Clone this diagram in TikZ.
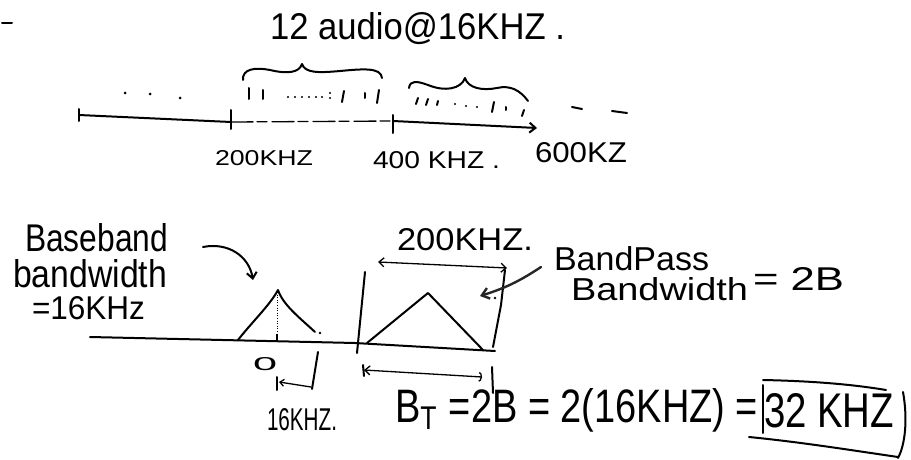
\documentclass[tikz,border=0pt]{standalone}
\usepackage{graphicx}
\usepackage{fontspec}
\setmainfont{Liberation Sans}
\usetikzlibrary{arrows.meta}
\newcommand{\hwtext}[3]{\resizebox{#1pt}{#2pt}{#3}}
\begin{document}
\begin{tikzpicture}[x=1pt,y=-1pt,
  ink/.style={line width=2pt, line cap=round, line join=round},
  fine/.style={line width=1.3pt, line cap=round},
  lbl/.style={inner sep=0pt, outer sep=0pt, anchor=base west},
  barb/.style={-{Straight Barb[length=6pt,width=10pt]}},
  dblbarb/.style={{Straight Barb[length=5pt,width=9pt]}-{Straight Barb[length=5pt,width=9pt]}},
]
\useasboundingbox (0,0) rectangle (911,460);
\fill[white] (0,0) rectangle (911,460);

% ---------- top part ----------
\draw[ink] (2,23) -- (12,23);
\node[lbl] (title) at (270,40) {\hwtext{295}{27}{12 audio@16KHZ .}};

% braces
\draw[ink] (243,80) .. controls (242,69) and (255,67) .. (270,70)
  .. controls (287,74) and (299,73) .. (302,64)
  .. controls (305,73) and (318,73) .. (340,71)
  .. controls (362,69) and (381,67) .. (382,78);
\draw[ink] (409,88) .. controls (410,80) and (417,81) .. (428,85)
  .. controls (445,92) and (461,89) .. (465,78)
  .. controls (468,88) and (482,91) .. (497,88)
  .. controls (510,85) and (520,90) .. (528,101);

% channel ticks, group 1
\draw[ink] (249,88) -- (249,99);
\draw[ink] (263,90) -- (263,99);
\foreach \x in {288,295,302,309,316,322} \fill (\x,97) circle (1.1pt);
\fill (330,93) circle (1.1pt); \fill (330,98) circle (1.1pt);
\draw[ink] (344,91) -- (342,102);
\draw[ink] (365,93) -- (365,98);
\draw[ink] (379,90) -- (377,103);
% channel ticks, group 2
\draw[ink] (418,98) -- (416,104);
\draw[ink] (428,99) -- (426,105);
\draw[ink] (438,101) -- (437,105);
\foreach \x/\y in {455/104,466/106,477/107} \fill (\x,\y) circle (1.1pt);
\draw[ink] (494,102) -- (492,112);
\draw[ink] (506,107) -- (506,110);
\draw[ink] (524,110) -- (522,116);

% dots left and dashes right
\foreach \x/\y in {125/93,150/94,180/98} \fill (\x,\y) circle (1.5pt);
\draw[ink] (572,107) -- (582,109);
\draw[ink] (612,111) -- (627,113);

% top axis
\coordinate (a0) at (79,115);
\coordinate (a1) at (231,122);
\coordinate (a2) at (393,121);
\coordinate (a3) at (537,128);
\draw[ink] (a0) -- (a1);
\draw[fine, dash pattern=on 22pt off 4pt on 10pt off 5pt] (a1) -- (a2);
\draw[ink, barb] (a2) -- (a3);
\draw[ink] (79,109) -- (79,121);
\draw[ink] (231,110) -- (231,129);
\draw[ink] (393,115) -- (393,133);

\node[lbl] (l200) at (215,165) {\hwtext{98}{15}{200KHZ}};
\node[lbl] (l400) at (373,168) {\hwtext{127}{17}{400 KHZ .}};
\node[lbl] (l600) at (535,162) {\hwtext{92}{20}{600KZ}};

% ---------- bottom part ----------
\node[lbl] (bb1) at (25,251) {\hwtext{143}{28}{Baseband}};
\node[lbl] (bb2) at (13,287) {\hwtext{154}{28}{bandwidth}};
\node[lbl] (bb3) at (32,319) {\hwtext{113}{23}{=16KHz}};
\coordinate (bbarrowstart) at (203,247);
\coordinate (bbarrowend) at (253,280);
\draw[ink, barb] (bbarrowstart) .. controls (228,242) and (249,256) .. (bbarrowend);

% main axis
\coordinate (m0) at (90,337);
\coordinate (m1) at (355,343);
\coordinate (m2) at (495,351);
\draw[ink] (m0) -- (m1) -- (m2);

% baseband spectrum
\draw[ink] (238,340) .. controls (252,322) and (270,305) .. (278,290)
  .. controls (283,305) and (300,318) .. (315,332);
\fill (320,333) circle (1.3pt);
\draw[line width=0.6pt, dotted] (277,292) -- (277,334);
\draw[line width=2.6pt] (277,334) -- (277,341);
\node[lbl] (zero) at (253,370) {\hwtext{24}{13}{0}};

\coordinate (s0) at (279,382);
\coordinate (s1) at (311,387);
\draw[ink] (277,377) -- (277,390);
\draw[fine, {Straight Barb[length=4pt,width=7pt]}-] (s0) -- (s1);
\draw[ink] (318,352) -- (312,389);
\node[lbl] (l16) at (267,430) {\hwtext{70}{22}{16KHZ.}};

% bandpass spectrum
\draw[ink] (365,272) -- (357,353);
\draw[ink] (505,270) -- (501,305) -- (493,347);
\draw[ink] (367,343) -- (428,293) -- (483,350);

\coordinate (w0) at (378,262);
\coordinate (w1) at (507,268);
\draw[fine, dblbarb] (w0) -- (w1);
\node[lbl] (l200b) at (397,250) {\hwtext{136}{22}{200KHZ.}};

\node[lbl] (bp1) at (554,270) {\hwtext{155}{24}{BandPass}};
\node[lbl] (bp2) at (571,300) {\hwtext{177}{23}{Bandwidth}};
\node[lbl] (bp3) at (753,290) {\hwtext{91}{23}{= 2B}};
\coordinate (bpA) at (541,267);
\coordinate (bpB) at (480,296);
\draw[black!85, line width=2.4pt, line cap=round, line join=round, -{Straight Barb[length=7pt,width=11pt]}] (bpA) to[bend left=8] (bpB);
\fill (495,298) circle (1.3pt);

\coordinate (t0) at (364,370);
\coordinate (t1) at (482,377);
\draw[fine, {Straight Barb[length=5pt,width=9pt]}-{Arc Barb[length=3pt,width=10pt]}] (t0) -- (t1);
\draw[ink] (363,365) -- (364,376);
\draw[ink] (492,367) -- (493,393);

% equation
\node[lbl] (eq) at (395,422) {\hwtext{363}{34}{B\textsubscript{T} =2B = 2(16KHZ) =}};
\node[lbl] (res) at (764,427) {\hwtext{130}{34}{32 KHZ}};
\draw[ink] (763,385) -- (763,433);
\draw[ink] (763,380) .. controls (810,381) and (850,384) .. (886,390);
\draw[ink] (903,392) .. controls (908,420) and (905,445) .. (898,458);
\draw[ink] (749,437) .. controls (800,442) and (850,450) .. (898,457);
\end{tikzpicture}
\end{document}
